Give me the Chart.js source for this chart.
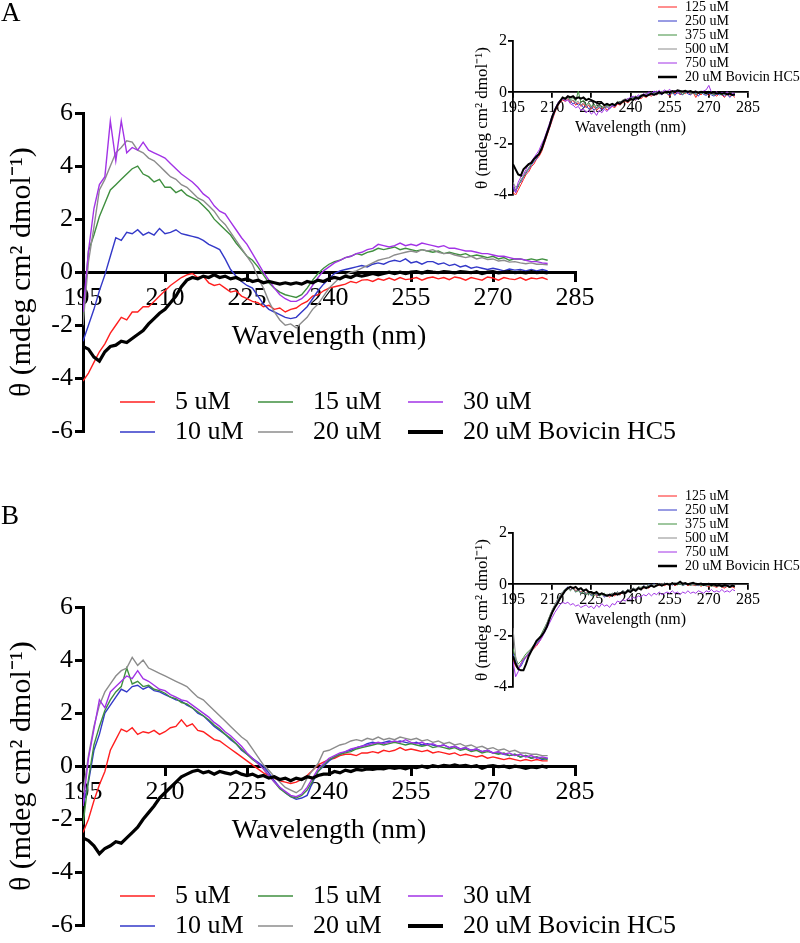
<!DOCTYPE html>
<html>
<head>
<meta charset="utf-8">
<script src="https://cdn.jsdelivr.net/npm/chart.js@4.4.0/dist/chart.umd.min.js"></script>
<style>
  body { margin: 0; background: #fff; }
  #fig { position: relative; width: 800px; height: 943px; overflow: hidden; font-family: 'Liberation Serif', 'Times New Roman', serif; }
  #fig canvas { position: absolute; }
  .tag { position: absolute; left: 1px; font-size: 27px; line-height: 27px; color: #000; }
</style>
</head>
<body>
<div id="fig">
  <canvas id="mainA" width="800" height="449" style="left:0;top:0"></canvas>
  <canvas id="mainB" width="800" height="449" style="left:0;top:494px"></canvas>
  <canvas id="insetA" width="330" height="215" style="left:470px;top:0"></canvas>
  <canvas id="insetB" width="330" height="215" style="left:470px;top:489px"></canvas>
  <div class="tag" style="top:-1px">A</div>
  <div class="tag" style="top:502px">B</div>
</div>
<script>
// wavelength (nm), one point per nm
var nm = [195,196,197,198,199,200,201,202,203,204,
  205,206,207,208,209,210,211,212,213,214,
  215,216,217,218,219,220,221,222,223,224,
  225,226,227,228,229,230,231,232,233,234,
  235,236,237,238,239,240,241,242,243,244,
  245,246,247,248,249,250,251,252,253,254,
  255,256,257,258,259,260,261,262,263,264,
  265,266,267,268,269,270,271,272,273,274,
  275,276,277,278,279,280];

var waveTicks = [195, 210, 225, 240, 255, 270, 285];
var mainYTicks = [-6, -4, -2, 0, 2, 4, 6];
var insetYTicks = [-4, -2, 0, 2];

var mainLabels = ['5 uM', '10 uM', '15 uM', '20 uM', '30 uM', '20 uM Bovicin HC5'];
var insetLabels = ['125 uM', '250 uM', '375 uM', '500 uM', '750 uM', '20 uM Bovicin HC5'];

// ---- panel A, main plot ----
var a5 = [-4.1,-3.8,-3.4,-3.0,-2.7,-2.3,-2.0,-1.7,-1.8,-1.5,
  -1.5,-1.3,-1.3,-1.1,-0.9,-0.7,-0.5,-0.35,-0.2,-0.1,
  -0.05,-0.2,-0.15,-0.4,-0.5,-0.45,-0.6,-0.75,-0.7,-0.9,
  -1.0,-1.1,-1.15,-1.3,-1.25,-1.4,-1.35,-1.5,-1.4,-1.35,
  -1.2,-1.1,-0.9,-0.85,-0.7,-0.6,-0.55,-0.5,-0.45,-0.35,
  -0.4,-0.3,-0.28,-0.35,-0.25,-0.3,-0.22,-0.3,-0.2,-0.28,
  -0.25,-0.2,-0.3,-0.22,-0.18,-0.25,-0.2,-0.28,-0.18,-0.22,
  -0.3,-0.2,-0.25,-0.3,-0.18,-0.22,-0.3,-0.2,-0.25,-0.28,
  -0.2,-0.3,-0.22,-0.25,-0.2,-0.28];
var a10 = [-2.6,-2.0,-1.4,-0.7,-0.1,0.6,1.3,1.2,1.5,1.45,
  1.6,1.4,1.5,1.4,1.65,1.45,1.5,1.6,1.45,1.4,
  1.35,1.3,1.2,1.05,0.95,0.85,0.5,0.1,-0.15,-0.35,
  -0.5,-0.6,-0.9,-1.2,-1.4,-1.5,-1.6,-1.7,-1.75,-1.7,
  -1.5,-1.3,-1.0,-0.7,-0.45,-0.25,-0.05,0.05,0.1,0.15,
  0.2,0.25,0.2,0.3,0.35,0.3,0.4,0.45,0.4,0.5,
  0.35,0.4,0.3,0.4,0.4,0.3,0.35,0.25,0.3,0.2,
  0.25,0.15,0.2,0.15,0.1,0.15,0.1,0.05,0.12,0.08,
  0.1,0.05,0.1,0.05,0.1,0.05];
var a15 = [-1.8,0.8,1.4,2.1,2.6,3.1,3.3,3.5,3.7,3.9,
  4.0,3.7,3.6,3.4,3.5,3.2,3.2,3.0,3.1,2.9,
  2.8,2.7,2.5,2.3,2.0,1.8,1.6,1.4,1.1,0.85,
  0.6,0.45,0.2,-0.1,-0.4,-0.6,-0.75,-0.85,-0.9,-0.95,
  -0.85,-0.6,-0.3,-0.05,0.15,0.3,0.4,0.45,0.55,0.6,
  0.7,0.65,0.75,0.8,0.9,0.85,0.9,0.95,0.85,0.9,
  0.85,0.8,0.85,0.8,0.75,0.8,0.7,0.75,0.7,0.65,
  0.7,0.6,0.65,0.6,0.55,0.6,0.5,0.55,0.45,0.5,
  0.5,0.45,0.5,0.45,0.5,0.45];
var a20 = [-2.0,0.4,1.7,3.1,3.5,4.0,4.5,4.7,4.95,4.9,
  4.6,4.5,4.3,4.2,4.0,3.8,3.6,3.5,3.3,3.2,
  3.0,2.8,2.7,2.5,2.3,2.0,1.8,1.5,1.2,0.9,
  0.6,0.3,-0.2,-0.6,-1.1,-1.5,-1.8,-2.0,-1.95,-2.1,
  -1.9,-1.7,-1.4,-1.2,-0.9,-0.6,-0.4,-0.2,-0.1,0.0,
  0.05,0.15,0.25,0.35,0.45,0.5,0.55,0.65,0.7,0.75,
  0.8,0.75,0.85,0.8,0.85,0.75,0.7,0.72,0.65,0.6,
  0.55,0.6,0.5,0.55,0.48,0.5,0.42,0.45,0.38,0.4,
  0.35,0.32,0.35,0.3,0.3,0.28];
var a30 = [-1.5,0.8,2.4,3.3,3.6,5.7,4.2,5.7,4.5,4.7,
  4.6,4.9,4.6,4.5,4.4,4.3,4.1,3.9,3.7,3.55,
  3.4,3.2,2.95,2.8,2.5,2.3,2.2,1.9,1.6,1.3,
  1.05,0.7,0.35,0.0,-0.3,-0.6,-0.85,-1.0,-1.1,-1.1,
  -1.0,-0.8,-0.5,-0.2,0.05,0.2,0.35,0.45,0.55,0.6,
  0.7,0.75,0.85,0.9,1.05,1.0,0.95,1.0,1.1,1.0,
  1.05,1.0,1.1,1.05,1.0,0.95,1.0,0.9,0.9,0.85,
  0.8,0.8,0.75,0.7,0.7,0.65,0.6,0.6,0.55,0.5,
  0.5,0.45,0.4,0.4,0.35,0.33];
var aBov = [-2.8,-2.9,-3.2,-3.35,-3.0,-2.8,-2.75,-2.6,-2.65,-2.5,
  -2.35,-2.2,-1.95,-1.75,-1.55,-1.4,-1.15,-0.9,-0.55,-0.3,
  -0.2,-0.25,-0.15,-0.2,-0.1,-0.2,-0.15,-0.25,-0.2,-0.3,
  -0.25,-0.35,-0.3,-0.4,-0.35,-0.4,-0.45,-0.4,-0.45,-0.4,
  -0.45,-0.35,-0.4,-0.3,-0.35,-0.25,-0.2,-0.25,-0.15,-0.2,
  -0.1,-0.15,-0.1,-0.05,-0.1,-0.05,0,-0.05,0,-0.05,
  0,0.02,-0.03,0.03,0,-0.02,0.02,0,-0.03,0.02,
  0,-0.02,0.02,-0.05,0,0.02,-0.03,0,0.02,-0.02,
  0,-0.03,0.02,-0.02,0,-0.03];

// ---- panel A, inset ----
var ia125 = [-3.9,-4.0,-3.8,-3.6,-3.4,-3.2,-3.1,-2.9,-2.8,-2.6,
  -2.5,-2.3,-2.0,-1.7,-1.4,-1.1,-0.8,-0.55,-0.4,-0.3,
  -0.35,-0.25,-0.4,-0.3,-0.5,-0.4,-0.55,-0.45,-0.6,-0.5,
  -0.65,-0.55,-0.7,-0.6,-0.65,-0.55,-0.7,-0.6,-0.55,-0.6,
  -0.45,-0.5,-0.4,-0.35,-0.4,-0.3,-0.25,-0.3,-0.2,-0.25,
  -0.15,-0.2,-0.1,-0.15,-0.05,-0.1,-0.02,-0.08,0,-0.05,
  -0.15,0,-0.05,0.02,-0.1,0,-0.05,0.03,-0.08,0,
  -0.2,-0.02,-0.1,0,-0.05,-0.12,0,-0.08,-0.15,-0.05,
  -0.1,-0.2,-0.05,-0.15,-0.1,-0.2];
var ia250 = [-3.7,-3.9,-3.6,-3.5,-3.3,-3.15,-3.0,-2.85,-2.7,-2.6,
  -2.4,-2.2,-1.95,-1.65,-1.35,-1.05,-0.75,-0.5,-0.35,-0.25,
  -0.3,-0.2,-0.35,-0.45,-0.4,-0.5,-0.45,-0.6,-0.5,-0.65,
  -0.55,-0.7,-0.6,-0.55,-0.7,-0.6,-0.55,-0.65,-0.5,-0.55,
  -0.4,-0.45,-0.35,-0.3,-0.35,-0.25,-0.2,-0.3,-0.15,-0.2,
  -0.1,-0.15,-0.05,-0.1,0,-0.08,-0.02,-0.1,0.02,-0.05,
  -0.1,0.02,-0.12,0,-0.05,-0.1,0.02,-0.06,-0.1,0,
  -0.05,-0.15,0,-0.08,-0.12,-0.02,-0.1,-0.15,-0.05,-0.1,
  -0.08,-0.15,-0.05,-0.2,-0.1,-0.12];
var ia375 = [-3.6,-3.8,-3.7,-3.4,-3.3,-3.1,-2.95,-2.8,-2.65,-2.5,
  -2.35,-2.15,-1.9,-1.6,-1.3,-1.0,-0.7,-0.5,-0.3,-0.2,
  -0.25,-0.15,-0.3,-0.2,-0.35,0.05,-0.4,-0.3,-0.5,-0.4,
  -0.55,-0.45,-0.6,-0.5,-0.55,-0.6,-0.5,-0.55,-0.45,-0.5,
  -0.4,-0.35,-0.4,-0.3,-0.25,-0.3,-0.2,-0.15,-0.2,-0.1,
  -0.15,-0.05,-0.1,0,-0.05,0.02,-0.08,0.05,0,-0.05,
  0.03,-0.05,0.05,-0.02,0.02,-0.08,0,0.05,-0.05,0,
  -0.1,0.02,-0.05,0,-0.08,0.03,-0.05,-0.1,0,-0.05,
  -0.1,-0.02,-0.08,-0.05,-0.12,-0.08];
var ia500 = [-3.5,-3.7,-3.6,-3.45,-3.25,-3.1,-2.95,-2.75,-2.65,-2.5,
  -2.35,-2.1,-1.85,-1.55,-1.25,-0.95,-0.7,-0.45,-0.3,-0.2,
  -0.3,-0.2,-0.35,-0.3,-0.4,-0.35,-0.5,-0.4,-0.55,-0.45,
  -0.6,-0.5,-0.65,-0.55,-0.6,-0.5,-0.6,-0.5,-0.45,-0.5,
  -0.35,-0.4,-0.3,-0.25,-0.3,-0.2,-0.25,-0.15,-0.2,-0.1,
  -0.1,-0.05,-0.1,0,-0.05,0.05,-0.05,0.02,0.05,-0.02,
  0.05,0,0.08,-0.03,0.03,0,0.05,-0.02,0.02,-0.05,
  0,0.03,-0.03,0.02,-0.05,0,-0.03,-0.06,0,-0.05,
  -0.03,-0.08,-0.02,-0.06,-0.1,-0.05];
var ia750 = [-3.6,-3.9,-3.5,-3.3,-3.2,-3.0,-2.8,-2.7,-2.55,-2.4,
  -2.25,-2.0,-1.8,-1.5,-1.2,-0.9,-0.65,-0.45,-0.3,-0.25,
  -0.35,-0.3,-0.45,-0.5,-0.6,-0.55,-0.7,-0.65,-0.8,-0.7,
  -0.85,-0.75,-0.9,-0.7,-0.8,-0.65,-0.75,-0.6,-0.55,-0.5,
  -0.45,-0.4,-0.35,-0.3,-0.25,-0.2,-0.15,-0.2,-0.1,-0.15,
  -0.05,-0.1,0.02,-0.05,0.05,0,0.08,-0.02,0.1,0.03,
  0.12,0,0.08,-0.03,0.05,0.02,0.06,-0.02,0.03,0,
  0.05,-0.03,0.02,0.05,0.1,0.27,0,-0.03,0.02,-0.05,
  0,-0.05,0.02,-0.08,-0.03,-0.05];
var iaBov = [-2.8,-3.0,-3.2,-3.25,-3.0,-2.9,-2.8,-2.75,-2.6,-2.5,
  -2.4,-2.2,-1.9,-1.6,-1.3,-0.95,-0.7,-0.5,-0.35,-0.2,
  -0.25,-0.15,-0.2,-0.15,-0.25,-0.2,-0.25,-0.2,-0.3,-0.25,
  -0.3,-0.35,-0.4,-0.45,-0.4,-0.5,-0.45,-0.5,-0.45,-0.5,
  -0.4,-0.45,-0.35,-0.3,-0.35,-0.25,-0.3,-0.2,-0.25,-0.15,
  -0.1,-0.15,-0.1,-0.05,-0.1,-0.05,0,-0.05,0,0.02,
  0,0.05,0.02,0.08,0.05,0.03,0.06,0.02,0.05,0,
  0.03,-0.02,0.02,0,-0.03,0.02,-0.02,0,-0.05,-0.02,
  -0.05,-0.03,-0.08,-0.05,-0.1,-0.08];

// ---- panel B, main plot ----
var b5 = [-2.5,-2.0,-1.3,-0.7,-0.2,0.6,1.0,1.4,1.3,1.45,
  1.2,1.3,1.25,1.35,1.2,1.3,1.45,1.5,1.75,1.5,
  1.6,1.35,1.3,1.15,1.0,0.95,0.8,0.65,0.5,0.35,
  0.2,0.05,-0.1,-0.25,-0.35,-0.45,-0.55,-0.6,-0.65,-0.6,
  -0.5,-0.35,-0.15,0.05,0.15,0.25,0.3,0.4,0.45,0.45,
  0.4,0.5,0.5,0.55,0.5,0.6,0.55,0.6,0.7,0.6,
  0.65,0.6,0.55,0.6,0.5,0.55,0.5,0.45,0.5,0.4,
  0.45,0.4,0.35,0.4,0.3,0.35,0.3,0.25,0.3,0.25,
  0.2,0.25,0.2,0.25,0.2,0.2];
var b10 = [-1.5,-0.6,0.6,1.2,2.0,2.3,2.6,2.9,2.8,3.0,
  3.05,2.9,3.0,2.85,2.8,2.7,2.6,2.5,2.45,2.3,
  2.2,2.0,1.9,1.7,1.5,1.35,1.2,1.0,0.85,0.6,
  0.45,0.3,0.15,0.0,-0.25,-0.55,-0.8,-1.0,-1.15,-1.25,
  -1.2,-1.1,-0.6,-0.2,0.0,0.2,0.35,0.45,0.55,0.6,
  0.7,0.75,0.85,0.9,0.85,0.9,0.95,0.9,0.95,0.9,
  0.85,0.9,0.8,0.85,0.8,0.75,0.8,0.7,0.75,0.65,
  0.7,0.6,0.65,0.55,0.6,0.5,0.5,0.45,0.4,0.45,
  0.35,0.4,0.3,0.35,0.25,0.3];
var b15 = [-2.2,-0.5,0.8,1.5,2.1,2.5,2.8,3.0,3.7,3.1,
  3.2,3.0,3.05,2.9,2.85,2.75,2.6,2.55,2.4,2.35,
  2.2,2.05,1.9,1.75,1.55,1.4,1.2,1.05,0.85,0.65,
  0.45,0.25,0.1,-0.1,-0.35,-0.6,-0.85,-1.0,-1.15,-1.2,
  -1.1,-0.9,-0.55,-0.2,0.05,0.25,0.35,0.45,0.5,0.55,
  0.65,0.7,0.75,0.8,0.85,0.8,0.85,0.9,0.85,0.8,
  0.85,0.8,0.75,0.8,0.7,0.75,0.7,0.65,0.7,0.6,
  0.65,0.55,0.6,0.5,0.55,0.5,0.45,0.5,0.4,0.45,
  0.35,0.4,0.3,0.35,0.3,0.25];
var b20 = [-1.0,0.4,1.5,2.3,2.8,3.1,3.4,3.6,3.7,4.1,
  3.8,4.0,3.7,3.6,3.5,3.4,3.3,3.2,3.1,3.0,
  2.8,2.6,2.5,2.3,2.1,1.9,1.7,1.5,1.3,1.1,
  0.95,0.65,0.35,0.05,-0.15,-0.4,-0.6,-0.8,-0.9,-1.0,
  -0.85,-0.45,-0.15,0.1,0.55,0.6,0.7,0.8,0.85,0.95,
  1.0,0.95,1.05,1.0,1.1,1.0,1.05,1.0,1.1,1.05,
  1.0,1.05,0.95,1.0,0.9,0.95,0.85,0.9,0.8,0.85,
  0.75,0.8,0.7,0.75,0.65,0.7,0.6,0.65,0.55,0.6,
  0.5,0.5,0.45,0.45,0.4,0.4];
var b30 = [-1.5,0.3,1.4,2.5,2.2,2.8,3.0,3.2,3.4,3.3,
  3.6,3.3,3.2,3.05,2.9,2.85,2.7,2.6,2.5,2.45,
  2.3,2.15,2.0,1.85,1.65,1.5,1.3,1.15,0.95,0.75,
  0.5,0.3,0.1,-0.1,-0.35,-0.6,-0.8,-0.95,-1.1,-1.15,
  -1.05,-0.8,-0.45,-0.1,0.1,0.3,0.4,0.5,0.55,0.65,
  0.7,0.75,0.8,0.85,0.9,0.85,0.9,0.95,0.9,1.0,
  0.9,0.85,0.9,0.8,0.85,0.75,0.8,0.7,0.75,0.65,
  0.7,0.6,0.65,0.55,0.6,0.5,0.55,0.45,0.5,0.4,
  0.45,0.35,0.4,0.3,0.35,0.3];
var bBov = [-2.7,-2.8,-3.0,-3.3,-3.1,-3.0,-2.85,-2.9,-2.7,-2.5,
  -2.3,-2.0,-1.75,-1.5,-1.2,-1.0,-0.8,-0.6,-0.4,-0.3,
  -0.2,-0.15,-0.25,-0.2,-0.3,-0.2,-0.25,-0.3,-0.2,-0.3,
  -0.35,-0.3,-0.4,-0.35,-0.45,-0.4,-0.5,-0.45,-0.55,-0.45,
  -0.5,-0.4,-0.45,-0.35,-0.3,-0.3,-0.2,-0.25,-0.15,-0.2,
  -0.12,-0.15,-0.1,-0.12,-0.08,-0.1,-0.05,-0.08,-0.05,-0.1,
  -0.03,-0.05,0,-0.05,0.02,-0.02,0.03,0,0.05,0,
  0.03,-0.02,0.02,-0.08,0,0.02,-0.02,0,-0.05,0,
  -0.03,-0.08,-0.03,-0.05,0,-0.05];

// ---- panel B, inset ----
var ib125 = [-2.9,-3.2,-3.3,-3.1,-2.9,-2.85,-2.7,-2.6,-2.5,-2.4,
  -2.25,-2.05,-1.85,-1.6,-1.35,-1.1,-0.9,-0.7,-0.5,-0.35,
  -0.25,-0.15,-0.2,-0.1,-0.25,-0.2,-0.3,-0.25,-0.35,-0.3,
  -0.4,-0.35,-0.45,-0.4,-0.35,-0.45,-0.4,-0.5,-0.4,-0.45,
  -0.35,-0.4,-0.3,-0.35,-0.25,-0.3,-0.2,-0.25,-0.15,-0.2,
  -0.15,-0.1,-0.15,-0.05,-0.1,0,-0.05,0.02,-0.05,0,
  -0.03,0.03,-0.05,0,0.05,-0.02,0.02,-0.05,0,-0.03,
  -0.05,0,-0.08,-0.02,-0.05,-0.1,-0.03,-0.08,-0.12,-0.05,
  -0.1,-0.15,-0.08,-0.12,-0.1,-0.15];
var ib250 = [-2.7,-3.0,-3.25,-3.2,-3.0,-2.8,-2.7,-2.55,-2.45,-2.3,
  -2.2,-2.0,-1.8,-1.55,-1.3,-1.05,-0.85,-0.65,-0.45,-0.3,
  -0.2,-0.1,-0.2,-0.15,-0.3,-0.2,-0.35,-0.25,-0.4,-0.3,
  -0.45,-0.35,-0.4,-0.45,-0.35,-0.5,-0.4,-0.45,-0.35,-0.4,
  -0.3,-0.35,-0.25,-0.3,-0.2,-0.25,-0.15,-0.2,-0.1,-0.15,
  -0.05,-0.1,0,-0.05,0.02,-0.03,0.03,0,0.05,0,
  0.02,-0.03,0.05,0,0.03,-0.05,0,0.02,-0.03,0,
  -0.02,-0.05,0,-0.03,-0.06,0,-0.05,-0.02,-0.08,-0.03,
  -0.05,-0.1,-0.03,-0.08,-0.05,-0.1];
var ib375 = [-2.5,-2.9,-3.1,-3.0,-2.85,-2.7,-2.6,-2.5,-2.35,-2.25,
  -2.1,-1.9,-1.7,-1.5,-1.25,-1.0,-0.8,-0.6,-0.45,-0.3,
  -0.2,-0.15,-0.25,-0.15,-0.3,-0.25,-0.35,-0.3,-0.4,-0.35,
  -0.4,-0.45,-0.35,-0.45,-0.4,-0.35,-0.45,-0.4,-0.35,-0.4,
  -0.3,-0.35,-0.25,-0.3,-0.2,-0.25,-0.15,-0.2,-0.1,-0.12,
  -0.08,-0.1,-0.02,-0.06,0,-0.03,0.02,0,0.04,-0.02,
  0.03,0,0.05,-0.02,0.02,-0.04,0.02,0,-0.04,0.01,
  -0.03,0,-0.05,-0.02,-0.06,-0.03,-0.08,-0.04,-0.07,-0.05,
  -0.1,-0.06,-0.08,-0.12,-0.07,-0.1];
var ib500 = [-1.7,-2.8,-3.2,-3.1,-2.9,-2.8,-2.65,-2.5,-2.4,-2.3,
  -2.15,-1.95,-1.75,-1.5,-1.25,-1.0,-0.8,-0.6,-0.45,-0.3,
  -0.2,-0.12,-0.22,-0.15,-0.28,-0.2,-0.32,-0.25,-0.35,-0.3,
  -0.38,-0.32,-0.42,-0.35,-0.4,-0.45,-0.38,-0.42,-0.35,-0.4,
  -0.3,-0.35,-0.25,-0.3,-0.2,-0.22,-0.15,-0.18,-0.1,-0.14,
  -0.06,-0.1,-0.03,-0.06,0,-0.04,0.03,0,0.05,0.01,
  0.04,0,0.06,0.02,0.04,-0.02,0.03,0,0.02,-0.03,
  0,-0.04,-0.01,-0.05,-0.02,-0.06,-0.03,-0.07,-0.05,-0.08,
  -0.06,-0.1,-0.07,-0.09,-0.06,-0.1];
var ib750 = [-3.0,-3.6,-3.4,-3.1,-2.95,-2.85,-2.7,-2.6,-2.45,-2.35,
  -2.25,-2.1,-1.9,-1.7,-1.5,-1.3,-1.1,-0.95,-0.8,-0.7,
  -0.75,-0.7,-0.8,-0.75,-0.85,-0.8,-0.9,-0.85,-0.8,-0.9,
  -0.85,-0.95,-0.8,-0.9,-0.75,-0.85,-0.8,-0.9,-0.75,-0.8,
  -0.65,-0.7,-0.6,-0.65,-0.55,-0.6,-0.5,-0.55,-0.45,-0.5,
  -0.4,-0.45,-0.35,-0.45,-0.35,-0.4,-0.3,-0.4,-0.35,-0.3,
  -0.35,-0.25,-0.35,-0.3,-0.4,-0.3,-0.35,-0.25,-0.35,-0.3,
  -0.35,-0.25,-0.3,-0.35,-0.25,-0.3,-0.2,-0.3,-0.25,-0.3,
  -0.2,-0.3,-0.25,-0.3,-0.2,-0.25];
var ibBov = [-2.8,-3.1,-3.3,-3.35,-3.35,-3.1,-2.8,-2.6,-2.4,-2.2,
  -2.1,-2.0,-1.85,-1.65,-1.35,-1.1,-0.9,-0.75,-0.55,-0.4,
  -0.25,-0.15,-0.1,-0.15,-0.1,-0.2,-0.15,-0.25,-0.2,-0.3,
  -0.3,-0.35,-0.3,-0.4,-0.35,-0.4,-0.45,-0.4,-0.45,-0.35,
  -0.4,-0.35,-0.3,-0.35,-0.25,-0.3,-0.2,-0.25,-0.15,-0.2,
  -0.1,-0.15,-0.1,-0.05,-0.1,-0.05,0,-0.05,0,0.02,
  -0.02,0.05,0,0.03,0.1,0.02,0.05,0,0.03,0.06,
  0.02,0,0.03,-0.02,0,0.02,-0.03,0,-0.05,-0.02,
  -0.08,-0.03,-0.05,-0.1,-0.05,-0.08];

var lineColors = ['#ff1f1f', '#3338c8', '#3f8f3f', '#8c8c8c', '#a233e6', '#000000'];
var drawOrder = [5, 4, 3, 2, 1, 0];
var serif = '"Liberation Serif", "Times New Roman", serif';

// legend in columns, like the figure (two rows in the main plots, one column in the insets)
var columnLegend = {
  id: 'columnLegend',
  afterDraw: function (chart, args, o) {
    var ctx = chart.ctx;
    ctx.save();
    ctx.font = o.size + 'px ' + serif;
    ctx.textBaseline = 'middle';
    chart.data.datasets.forEach(function (ds, i) {
      var col = Math.floor(i / o.rows);
      var row = i % o.rows;
      var x = o.x[col];
      var y = o.y + row * o.step;
      ctx.strokeStyle = ds.borderColor;
      ctx.lineWidth = i === 5 ? o.bold : o.thin;
      ctx.beginPath();
      ctx.moveTo(x, y);
      ctx.lineTo(x + o.len, y);
      ctx.stroke();
      ctx.fillStyle = '#000';
      ctx.fillText(ds.label, x + o.len + o.gap, y);
    });
    ctx.restore();
  }
};

function tickList(values) {
  return function (scale) {
    scale.ticks = values.map(function (v) { return { value: v }; });
  };
}

function drawPlot(id, series, labels, yTicks, g) {
  var datasets = series.map(function (vals, i) {
    return {
      label: labels[i],
      data: vals.map(function (v, j) { return { x: nm[j], y: v }; }),
      borderColor: lineColors[i],
      borderWidth: i === 5 ? g.bold : g.thin,
      pointRadius: 0,
      tension: 0,
      fill: false,
      order: drawOrder[i]
    };
  });

  return new Chart(document.getElementById(id), {
    type: 'line',
    data: { datasets: datasets },
    options: {
      responsive: false,
      animation: false,
      events: [],
      layout: { padding: g.pad },
      plugins: {
        legend: { display: false },
        tooltip: { enabled: false },
        columnLegend: g.legend
      },
      scales: {
        x: {
          type: 'linear',
          min: waveTicks[0],
          max: waveTicks[waveTicks.length - 1],
          position: { y: 0 },
          afterBuildTicks: tickList(waveTicks),
          grid: { drawOnChartArea: false, tickLength: g.tickLen, color: '#000', lineWidth: g.axis },
          border: { color: '#000', width: g.axis },
          ticks: { color: '#000', font: { family: serif, size: g.tickSize }, padding: g.tickPad, maxRotation: 0, autoSkip: false },
          title: { display: true, text: 'Wavelength (nm)', color: '#000', font: { family: serif, size: g.titleSize }, padding: { top: g.xTitlePad, bottom: 0 } }
        },
        y: {
          min: yTicks[0],
          max: yTicks[yTicks.length - 1],
          afterBuildTicks: tickList(yTicks),
          afterFit: function (scale) { scale.width = g.yWidth; },
          grid: { drawOnChartArea: false, tickLength: g.tickLen, color: '#000', lineWidth: g.axis },
          border: { color: '#000', width: g.axis },
          ticks: { color: '#000', font: { family: serif, size: g.tickSize }, padding: g.tickPad, autoSkip: false },
          title: { display: true, text: 'θ (mdeg cm² dmol⁻¹)', color: '#000', font: { family: serif, size: g.yTitleSize }, padding: { top: g.yTitlePad, bottom: 0 } }
        }
      }
    },
    plugins: [columnLegend]
  });
}

var mainGeom = {
  pad: { left: 0, top: 113, right: 225, bottom: 11 },
  yWidth: 83, thin: 1.4, bold: 3.2, axis: 3, tickLen: 8, tickPad: 2,
  tickSize: 26, titleSize: 28, yTitleSize: 30, xTitlePad: 4, yTitlePad: 4,
  legend: { rows: 2, x: [120, 258, 408], y: 402, step: 30, len: 35, gap: 20, size: 26, thin: 1.5, bold: 4 }
};

function insetGeom(top, legendY) {
  return {
    pad: { left: 0, top: top, right: 52, bottom: 215 - top - 154 },
    yWidth: 43, thin: 1, bold: 2, axis: 1.8, tickLen: 5, tickPad: 1,
    tickSize: 16, titleSize: 16, yTitleSize: 17, xTitlePad: 0, yTitlePad: 2,
    legend: { rows: 6, x: [188], y: legendY, step: 14, len: 19, gap: 8, size: 14, thin: 1, bold: 2.5 }
  };
}

function drawAll() {
  drawPlot('mainA', [a5, a10, a15, a20, a30, aBov], mainLabels, mainYTicks, mainGeom);
  drawPlot('mainB', [b5, b10, b15, b20, b30, bBov], mainLabels, mainYTicks, mainGeom);
  drawPlot('insetA', [ia125, ia250, ia375, ia500, ia750, iaBov], insetLabels, insetYTicks, insetGeom(41, 7));
  drawPlot('insetB', [ib125, ib250, ib375, ib500, ib750, ibBov], insetLabels, insetYTicks, insetGeom(44, 7));
}

// make sure the serif face is ready before the canvases paint text
document.fonts.load('26px "Liberation Serif"').then(drawAll, drawAll);
</script>
</body>
</html>
